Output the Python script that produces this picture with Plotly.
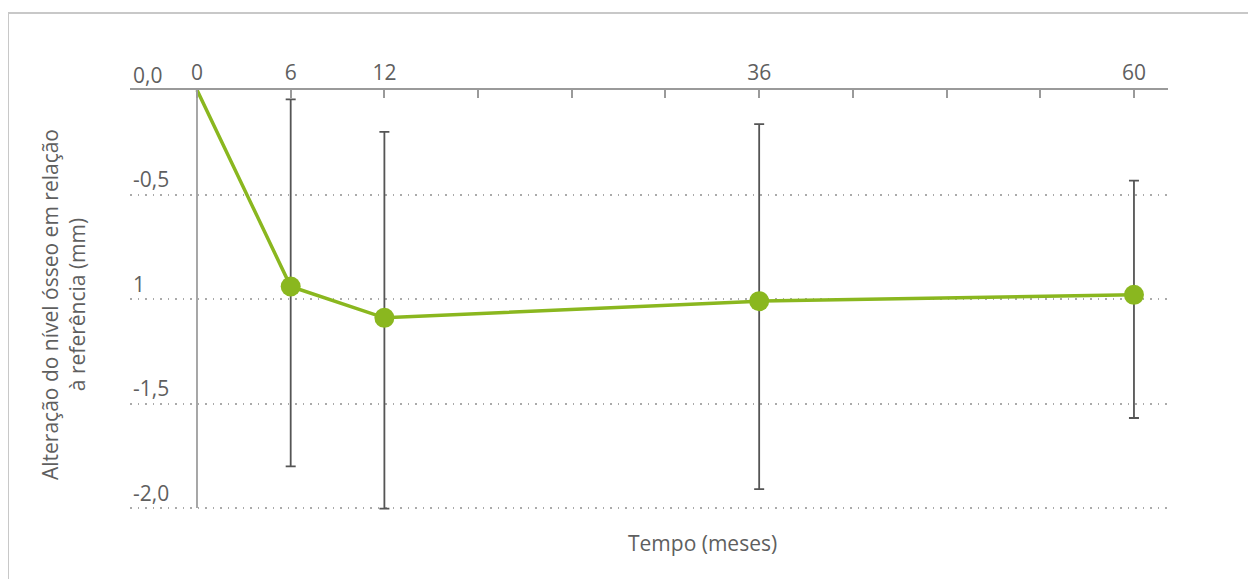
import plotly.graph_objects as go

months = [0, 6, 12, 36, 60]
mean_change = [0.0, -0.94, -1.09, -1.01, -0.98]
err_months = [6, 12, 36, 60]
err_mean = [-0.94, -1.09, -1.01, -0.98]
err_upper = [-0.045, -0.20, -0.163, -0.434]
err_lower = [-1.80, -2.003, -1.909, -1.569]

x_tickvals = [0, 6, 12, 18, 24, 30, 36, 42, 48, 54, 60]
x_ticktext = ["0", "6", "12", "", "", "", "36", "", "", "", "60"]
y_tickvals = [0.0, -0.5, -1.0, -1.5, -2.0]
y_ticktext = ["0,0", "-0,5", "1", "-1,5", "-2,0"]

green = "#8ab71f"
txt = "#5f5f5f"
font_family = "Open Sans"
fs = 21

OFF = 8  # page body margin
W, H = 1248, 571
L, R, T, B = 122, 88, 82, 59
pw, ph = W - L - R, H - T - B

def px2paper_x(px):  # screen px -> paper
    return (px - OFF - L) / pw

def px2paper_y(py):
    return (H - B - (py - OFF)) / ph

fig = go.Figure()

fig.add_trace(go.Scatter(
    x=months, y=mean_change, mode="lines",
    line=dict(color=green, width=3.5), hoverinfo="skip", showlegend=False,
))

fig.add_trace(go.Scatter(
    x=err_months, y=err_mean, mode="markers",
    marker=dict(color=green, size=20),
    error_y=dict(
        type="data", symmetric=False,
        array=[u - m for u, m in zip(err_upper, err_mean)],
        arrayminus=[m - l for m, l in zip(err_mean, err_lower)],
        color="#555555", thickness=1.8, width=5,
    ),
    showlegend=False,
))

# vertical reference line at month 0
fig.add_shape(type="line", xref="x", yref="y", x0=0, x1=0, y0=0, y1=-2.0,
              line=dict(color="#8a8a8a", width=1.5), layer="below")

# frame
fig.add_shape(type="line", xref="paper", yref="paper",
              x0=px2paper_x(8), x1=px2paper_x(1270), y0=px2paper_y(13), y1=px2paper_y(13),
              line=dict(color="#c8c8c8", width=2))
fig.add_shape(type="line", xref="paper", yref="paper",
              x0=px2paper_x(8), x1=px2paper_x(8), y0=px2paper_y(13), y1=px2paper_y(600),
              line=dict(color="#c8c8c8", width=2))

fig.add_annotation(
    text="Tempo (meses)", xref="paper", yref="paper",
    x=px2paper_x(702), y=px2paper_y(543), xanchor="center", yanchor="middle",
    showarrow=False,
    font=dict(family=font_family, size=fs, color=txt),
)
fig.add_annotation(
    text="Alteração do nível ósseo em relação<br>à referência (mm)",
    xref="paper", yref="paper", x=px2paper_x(63), y=px2paper_y(305),
    xanchor="center", yanchor="middle",
    textangle=-90, showarrow=False,
    font=dict(family=font_family, size=fs, color=txt),
)

fig.update_layout(
    width=W, height=H,
    margin=dict(l=L, r=R, t=T, b=B),
    paper_bgcolor="white", plot_bgcolor="white",
    font=dict(family=font_family, size=fs, color=txt),
    xaxis=dict(
        side="top", range=[-4.29, 62.18],
        tickvals=x_tickvals, ticktext=x_ticktext,
        ticks="inside", ticklen=8, tickwidth=1.5, tickcolor="#9a9a9a",
        showline=True, linecolor="#9a9a9a", linewidth=2,
        showgrid=False, zeroline=False,
        tickfont=dict(family=font_family, size=fs, color=txt),
    ),
    yaxis=dict(
        range=[-2.057, 0.0],
        tickvals=y_tickvals, ticktext=y_ticktext,
        ticks="", ticklabelposition="inside top", ticklabeloverflow="allow",
        showline=False, zeroline=False,
        showgrid=True, gridcolor="#aaaaaa", gridwidth=1.5, griddash="1.5px,6px",
        tickfont=dict(family=font_family, size=fs, color=txt),
    ),
)

fig.write_html("out.html")
